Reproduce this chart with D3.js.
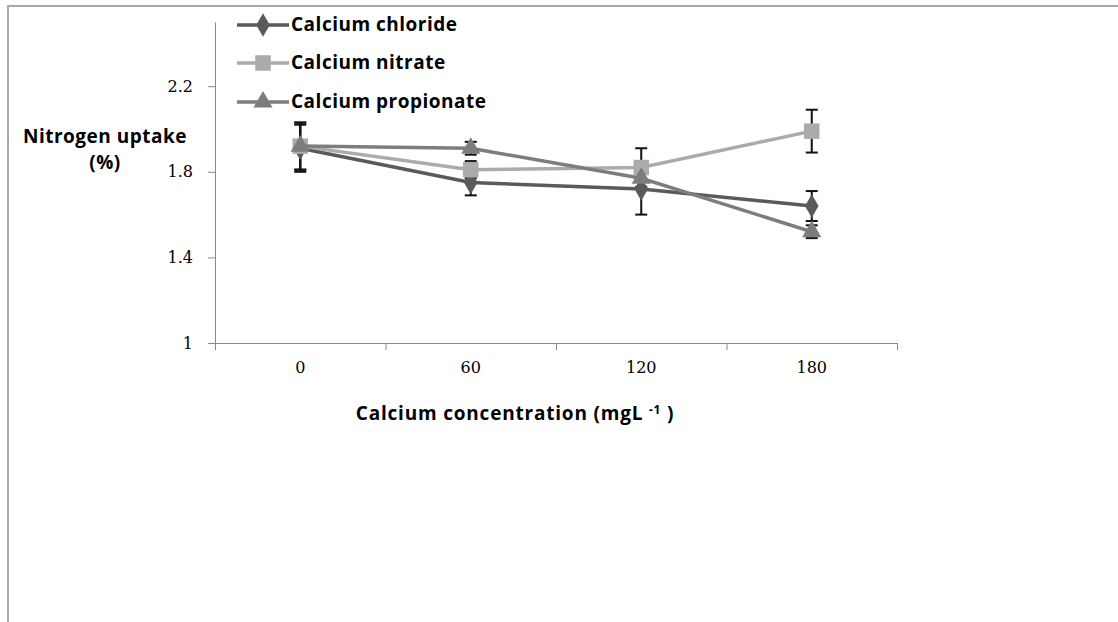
<!DOCTYPE html>
<html lang="en">
	<head>
		<meta charset="utf-8">
		<title>Nitrogen uptake by calcium concentration</title>
		<script type="text/javascript" src="https://d3js.org/d3.v7.min.js"></script>
		<style type="text/css">
			body {
				background-color: white;
				margin: 0;
			}
			svg {
				display: block;
			}
			.bold {
				font-family: "Open Sans", Lato, sans-serif;
				font-weight: bold;
				font-size: 19px;
				letter-spacing: 0.5px;
				fill: #000;
			}
			.axis text {
				font-family: "DejaVu Serif", serif;
				font-size: 16px;
				fill: #000;
			}
			.axis path, .axis line {
				stroke: #888;
			}
		</style>
	</head>
	<body>
		<script type="text/javascript">
			//Data
			var categories = ["0", "60", "120", "180"];
			var seriesNames = ["Calcium chloride", "Calcium nitrate", "Calcium propionate"];
			var chloride = [1.91, 1.75, 1.72, 1.64];
			var chlorideErr = [0.11, 0.06, 0.12, 0.07];
			var nitrate = [1.92, 1.81, 1.82, 1.99];
			var nitrateErr = [0.11, 0.04, 0.09, 0.10];
			var propionate = [1.92, 1.91, 1.77, 1.52];
			var propionateErr = [0.11, 0.03, 0.05, 0.03];
			var yTicks = [1, 1.4, 1.8, 2.2];

			var w = 1118;
			var h = 622;

			//Series table with styles
			var series = [
				{ name: seriesNames[0], values: chloride, errs: chlorideErr, color: "#5a5a5a", shape: d3.symbolDiamond, size: 160 },
				{ name: seriesNames[1], values: nitrate, errs: nitrateErr, color: "#ababab", shape: d3.symbolSquare, size: 240 },
				{ name: seriesNames[2], values: propionate, errs: propionateErr, color: "#7d7d7d", shape: d3.symbolTriangle, size: 160 }
			];

			var svg = d3.select("body")
					.append("svg")
					.attr("width", w)
					.attr("height", h);

			//outer frame (runs off the right and bottom edges)
			svg.append("rect")
				.attr("x", 8)
				.attr("y", 6)
				.attr("width", w + 20)
				.attr("height", h + 20)
				.attr("fill", "none")
				.attr("stroke", "#a8a8a8")
				.attr("stroke-width", 2);

			//scales
			var x = d3.scaleBand()
				.domain(categories)
				.range([215, 897]);
			var xEdge = d3.scaleLinear()
				.domain([0, categories.length])
				.range([215, 897]);
			var y = d3.scaleLinear()
				.domain([1, 2.5])
				.range([343, 22]);

			//y axis
			svg.append("g")
				.attr("class", "axis")
				.attr("transform", "translate(215,0)")
				.call(d3.axisLeft(y)
					.tickValues(yTicks)
					.tickFormat(function(d) { return d; })
					.tickSize(7)
					.tickSizeOuter(0)
					.tickPadding(15));

			//x axis: ticks between the categories
			svg.append("g")
				.attr("class", "axis")
				.attr("transform", "translate(0,343)")
				.call(d3.axisBottom(xEdge)
					.tickValues(d3.range(categories.length + 1))
					.tickFormat("")
					.tickSize(7)
					.tickSizeOuter(0));

			//x labels
			svg.append("g")
				.attr("class", "axis")
				.attr("transform", "translate(0,343)")
				.call(d3.axisBottom(x)
					.tickSize(0)
					.tickPadding(19))
				.select(".domain").remove();

			//axis titles
			var xt = svg.append("text")
				.attr("class", "bold")
				.attr("x", 515)
				.attr("y", 420)
				.attr("text-anchor", "middle")
				.style("letter-spacing", "0.8px")
				.text("Calcium concentration (mgL ");
			xt.append("tspan")
				.attr("dy", -6)
				.style("font-size", "12px")
				.text("-1");
			xt.append("tspan")
				.attr("dy", 6)
				.text(" )");

			svg.append("text")
				.attr("class", "bold")
				.attr("x", 105)
				.attr("y", 143)
				.attr("text-anchor", "middle")
				.text("Nitrogen uptake");
			svg.append("text")
				.attr("class", "bold")
				.attr("x", 105)
				.attr("y", 169)
				.attr("text-anchor", "middle")
				.text("(%)");

			var cx = function(d, i) { return x(categories[i]) + x.bandwidth() / 2; };

			//error bars under the lines
			series.forEach(function(s) {
				var g = svg.append("g")
					.attr("stroke", "#111")
					.attr("stroke-width", 2);
				s.values.forEach(function(v, i) {
					var px = cx(v, i);
					var top = y(v + s.errs[i]);
					var bot = y(v - s.errs[i]);
					g.append("line").attr("x1", px).attr("x2", px).attr("y1", top).attr("y2", bot);
					g.append("line").attr("x1", px - 6).attr("x2", px + 6).attr("y1", top).attr("y2", top);
					g.append("line").attr("x1", px - 6).attr("x2", px + 6).attr("y1", bot).attr("y2", bot);
				});
			});

			//lines and markers
			var line = d3.line()
				.x(cx)
				.y(function(d) { return y(d); });

			series.forEach(function(s) {
				svg.append("path")
					.datum(s.values)
					.attr("d", line)
					.attr("fill", "none")
					.attr("stroke", s.color)
					.attr("stroke-width", 3.5);
				svg.selectAll(null)
					.data(s.values)
					.enter()
					.append("path")
					.attr("d", d3.symbol().type(s.shape).size(s.size))
					.attr("transform", function(d, i) { return "translate(" + cx(d, i) + "," + y(d) + ")"; })
					.attr("fill", s.color);
			});

			//legend
			var legend = svg.selectAll(".legend")
				.data(series)
				.enter()
				.append("g")
				.attr("class", "legend")
				.attr("transform", function(d, i) { return "translate(237," + [25, 63, 102][i] + ")"; });
			legend.append("line")
				.attr("x1", 0).attr("x2", 52)
				.attr("stroke", function(d) { return d.color; })
				.attr("stroke-width", 3.5);
			legend.append("path")
				.attr("transform", "translate(26,0)")
				.attr("d", function(d) { return d3.symbol().type(d.shape).size(d.size)(); })
				.attr("fill", function(d) { return d.color; });
			legend.append("text")
				.attr("class", "bold")
				.attr("x", 54)
				.attr("y", 6)
				.text(function(d) { return d.name; });
		</script>
	</body>
</html>
